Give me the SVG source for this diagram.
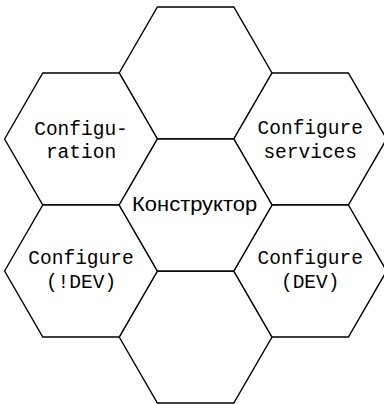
<svg xmlns="http://www.w3.org/2000/svg" xmlns:xlink="http://www.w3.org/1999/xlink" width="384" height="404" viewBox="0 0 384 404">
<style>
.hex{fill:#fff;stroke:#000;stroke-width:1.4;stroke-linejoin:miter}
.mono{font-family:"Liberation Mono","DejaVu Sans Mono",monospace;font-size:19.5px;fill:#000;text-anchor:middle}
.sans{font-family:"Liberation Sans",Arial,sans-serif;font-size:20px;fill:#000;text-anchor:middle}
</style>
<defs>
<polygon id="hexshape" class="hex" points="-76.4,0 -38.2,-66 38.2,-66 76.4,0 38.2,66 -38.2,66"/>
</defs>
<rect width="384" height="404" fill="#fff"/>
<g id="hex-top" transform="translate(195.6,73)"><use xlink:href="#hexshape"/></g>
<g id="hex-bottom" transform="translate(195.6,337)"><use xlink:href="#hexshape"/></g>
<g id="configuration" transform="translate(81,139)"><use xlink:href="#hexshape"/>
<text class="mono" x="0" y="-4">Configu-</text><text class="mono" x="0" y="19">ration</text></g>
<g id="configure-services" transform="translate(310.2,139)"><use xlink:href="#hexshape"/>
<text class="mono" x="0" y="-5">Configure</text><text class="mono" x="0" y="19">services</text></g>
<g id="configure-notdev" transform="translate(81,271)"><use xlink:href="#hexshape"/>
<text class="mono" x="0" y="-7">Configure</text><text class="mono" x="0" y="17">(!DEV)</text></g>
<g id="configure-dev" transform="translate(310.2,271)"><use xlink:href="#hexshape"/>
<text class="mono" x="0" y="-7">Configure</text><text class="mono" x="0" y="17">(DEV)</text></g>
<g id="konstruktor" transform="translate(195.6,205)"><use xlink:href="#hexshape"/>
<text class="sans" x="-1" y="6" textLength="125" lengthAdjust="spacingAndGlyphs">Конструктор</text></g>
<g id="connectors"/>
</svg>
